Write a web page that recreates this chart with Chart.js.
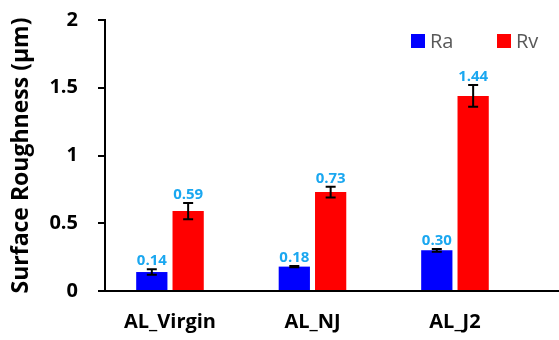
<!DOCTYPE html>
<html>
<head>
<meta charset="utf-8">
<script src="https://cdn.jsdelivr.net/npm/chart.js@4.4.0/dist/chart.umd.min.js"></script>
<style>
  html, body { margin: 0; padding: 0; background: #fff; }
  #wrap { width: 559px; height: 340px; }
</style>
</head>
<body>
<div id="wrap"><canvas id="roughChart" width="559" height="340"></canvas></div>
<script>
'use strict';

var categories = ['AL_Virgin', 'AL_NJ', 'AL_J2'];
var raValues = [0.14, 0.18, 0.30];
var rvValues = [0.59, 0.73, 1.44];
var raErrors = [0.02, 0.005, 0.01];
var rvErrors = [0.06, 0.04, 0.08];
var yTicks = [0, 0.5, 1, 1.5, 2];

var labelBlue = '#1aa7f0';
var fontFamily = '"Open Sans", "Liberation Sans", sans-serif';

function points(values) {
    return values.map(function (v, i) { return { x: i, y: v }; });
}

// error bars + value labels on top of each bar
var errorBarPlugin = {
    id: 'errorBars',
    afterDatasetsDraw: function (chart) {
        var ctx = chart.ctx;
        var yScale = chart.scales.y;
        ctx.save();
        chart.data.datasets.forEach(function (ds, i) {
            var meta = chart.getDatasetMeta(i);
            meta.data.forEach(function (bar, j) {
                var v = ds.data[j].y;
                var e = ds.errors[j];
                var top = yScale.getPixelForValue(v + e);
                var bot = yScale.getPixelForValue(v - e);
                ctx.strokeStyle = '#000';
                ctx.lineWidth = 2;
                ctx.beginPath();
                ctx.moveTo(bar.x, top);
                ctx.lineTo(bar.x, bot);
                ctx.moveTo(bar.x - 5, top);
                ctx.lineTo(bar.x + 5, top);
                ctx.moveTo(bar.x - 5, bot);
                ctx.lineTo(bar.x + 5, bot);
                ctx.stroke();

                ctx.fillStyle = labelBlue;
                ctx.font = 'bold 15px ' + fontFamily;
                ctx.textAlign = 'center';
                ctx.textBaseline = 'alphabetic';
                ctx.fillText(v.toFixed(2), bar.x, top - 4);
            });
        });
        ctx.restore();
    }
};

// legend drawn inside the plot, top right
var innerLegend = {
    id: 'innerLegend',
    afterDraw: function (chart) {
        var ctx = chart.ctx;
        var xs = [411, 497];
        ctx.save();
        chart.data.datasets.forEach(function (ds, i) {
            ctx.fillStyle = ds.backgroundColor;
            ctx.fillRect(xs[i], 34, 14, 14);
            ctx.fillStyle = '#595959';
            ctx.font = '20px ' + fontFamily;
            ctx.textAlign = 'left';
            ctx.textBaseline = 'middle';
            ctx.fillText(ds.label, xs[i] + 19, 42);
        });
        ctx.restore();
    }
};

var roughChart = new Chart(document.getElementById('roughChart'), {
    type: 'bar',
    data: {
        datasets: [
            {
                label: 'Ra',
                data: points(raValues),
                errors: raErrors,
                backgroundColor: '#0000ff',
                borderWidth: 0
            },
            {
                label: 'Rv',
                data: points(rvValues),
                errors: rvErrors,
                backgroundColor: '#ff0000',
                borderWidth: 0
            }
        ]
    },
    options: {
        responsive: false,
        animation: false,
        categoryPercentage: 0.51,
        barPercentage: 0.86,
        layout: { padding: { top: 20, left: 0, right: 0, bottom: 0 } },
        plugins: {
            legend: { display: false },
            tooltip: { enabled: false }
        },
        scales: {
            x: {
                type: 'linear',
                offset: false,
                min: -0.456,
                max: 2.73,
                afterBuildTicks: function (scale) {
                    scale.ticks = categories.map(function (c, i) { return { value: i }; });
                },
                afterFit: function (scale) {
                    scale.height = 49;
                    scale.paddingLeft = 0;
                    scale.paddingRight = 0;
                },
                grid: { display: false, drawTicks: false },
                border: { display: true, color: '#000', width: 2 },
                ticks: {
                    padding: 19,
                    color: '#000',
                    font: { family: fontFamily, size: 20, weight: 'bold' },
                    callback: function (v) { return categories[v]; }
                }
            },
            y: {
                min: 0,
                max: 2,
                afterBuildTicks: function (scale) {
                    scale.ticks = yTicks.map(function (v) { return { value: v }; });
                },
                afterFit: function (scale) {
                    scale.width = 105;
                    scale.paddingTop = 0;
                    scale.paddingBottom = 0;
                },
                grid: {
                    drawOnChartArea: false,
                    drawTicks: true,
                    tickLength: 7,
                    color: '#000',
                    lineWidth: 2
                },
                border: { display: true, color: '#000', width: 2 },
                ticks: {
                    padding: 20,
                    color: '#000',
                    font: { family: fontFamily, size: 20, weight: 'bold' },
                    callback: function (v) { return String(v); }
                },
                title: {
                    display: true,
                    text: 'Surface Roughness (\u00b5m)',
                    color: '#000',
                    padding: { top: 8, bottom: 0 },
                    font: { family: fontFamily, size: 23, weight: 'bold' }
                }
            }
        }
    },
    plugins: [errorBarPlugin, innerLegend]
});
</script>
</body>
</html>
